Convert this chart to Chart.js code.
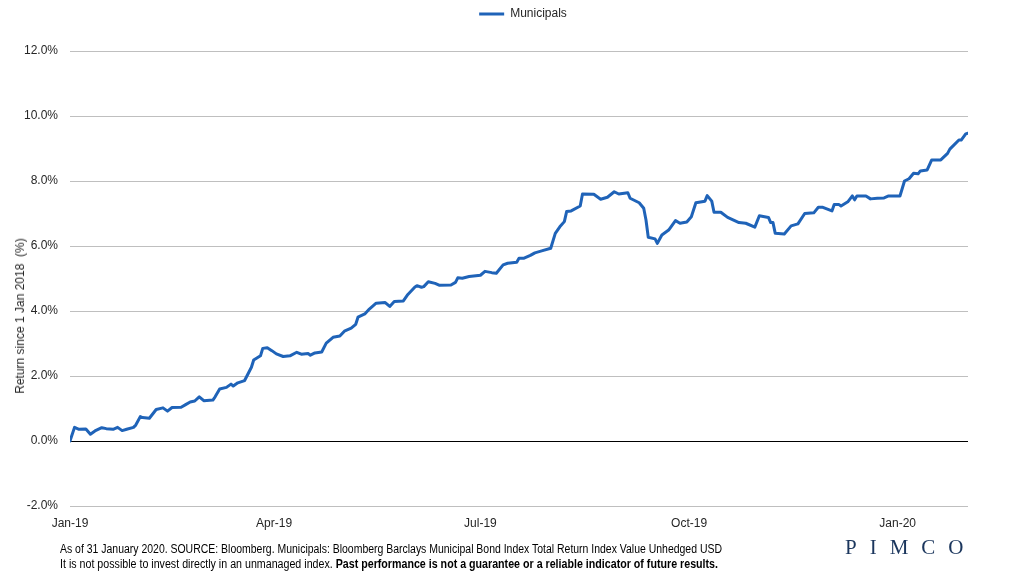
<!DOCTYPE html>
<html>
<head>
<meta charset="utf-8">
<script src="https://cdn.jsdelivr.net/npm/chart.js@4/dist/chart.umd.min.js"></script>
<style>
  body { margin: 0; background: #fff; }
  #wrap { position: relative; width: 1025px; height: 577px; overflow: hidden; }
  #ytitle {
    position: absolute; left: 20px; top: 316px;
    transform: translate(-50%, -50%) rotate(-90deg);
    font: 12px "Liberation Sans", Arial, sans-serif; color: #262626; white-space: pre;
  }
  .foot {
    position: absolute; left: 60px; transform-origin: 0 50%;
    font: 12px "Liberation Sans", Arial, sans-serif; color: #000; white-space: nowrap;
  }
  #logo {
    position: absolute; left: 845px; top: 535px;
    font: 21px "Liberation Serif", "Times New Roman", serif; color: #1b365d; letter-spacing: 13px;
  }
</style>
</head>
<body>
<div id="wrap">
  <canvas id="myChart" width="1025" height="577"></canvas>
  <div id="ytitle">Return since 1 Jan 2018  (%)</div>
  <div class="foot" id="foot1" style="top:542px" data-w="662">As of 31 January 2020. SOURCE: Bloomberg. Municipals: Bloomberg Barclays Municipal Bond Index Total Return Index Value Unhedged USD</div>
  <div class="foot" id="foot2" style="top:557px" data-w="658">It is not possible to invest directly in an unmanaged index. <b>Past performance is not a guarantee or a reliable indicator of future results.</b></div>
  <div id="logo">PIMCO</div>
</div>
<script>
// days since 1 Jan 2019 and the index return (%)
const days = [0,2,4,7,9,11,14,16,19,21,23,25,28,29,31,32,35,38,41,43,45,49,51,53,55,57,59,63,64,66,69,71,72,74,77,80,81,84,85,87,89,91,94,97,100,102,105,106,108,111,113,116,119,121,124,126,127,130,132,135,139,141,143,147,149,152,153,155,156,158,161,163,168,170,171,173,176,181,183,186,188,191,193,197,198,200,203,205,208,212,214,216,218,219,221,225,226,231,234,237,240,242,246,247,251,253,254,255,258,259,261,264,267,269,272,274,276,280,281,283,284,287,290,295,298,302,304,308,309,310,311,315,318,321,324,328,330,332,336,337,339,340,343,345,346,347,351,353,356,359,361,366,368,370,372,374,375,378,380,384,387,388,392,393,395,396];
const municipals = [0.00,0.42,0.36,0.37,0.21,0.31,0.41,0.38,0.36,0.42,0.32,0.36,0.42,0.49,0.75,0.72,0.70,0.97,1.02,0.92,1.03,1.04,1.12,1.20,1.23,1.36,1.24,1.26,1.36,1.60,1.65,1.75,1.69,1.79,1.86,2.27,2.49,2.62,2.85,2.87,2.78,2.68,2.60,2.62,2.73,2.67,2.69,2.64,2.71,2.74,3.01,3.19,3.23,3.38,3.47,3.59,3.81,3.91,4.06,4.24,4.26,4.14,4.29,4.31,4.51,4.73,4.78,4.73,4.75,4.90,4.85,4.79,4.80,4.88,5.02,5.01,5.06,5.10,5.22,5.18,5.16,5.42,5.47,5.50,5.62,5.62,5.71,5.79,5.85,5.93,6.39,6.59,6.75,7.06,7.08,7.23,7.60,7.59,7.44,7.50,7.67,7.60,7.64,7.47,7.33,7.16,6.80,6.27,6.22,6.08,6.34,6.49,6.78,6.70,6.74,6.90,7.33,7.38,7.55,7.38,7.04,7.04,6.88,6.72,6.70,6.58,6.93,6.88,6.72,6.72,6.39,6.37,6.62,6.68,7.00,7.02,7.19,7.19,7.08,7.28,7.28,7.23,7.36,7.54,7.42,7.54,7.54,7.45,7.47,7.48,7.54,7.54,8.00,8.07,8.24,8.22,8.31,8.34,8.65,8.65,8.85,8.98,9.26,9.26,9.45,9.47];

// x axis tick positions (days) and labels
const tickDays = [0, 90, 181, 273, 365];
const tickLabels = ["Jan-19", "Apr-19", "Jul-19", "Oct-19", "Jan-20"];

const lineColor = '#1f63b8';

// the footnote font in the original is narrower, squeeze lines to its width
document.querySelectorAll('.foot').forEach(el => {
  const w = el.getBoundingClientRect().width;
  el.style.transform = 'scaleX(' + (el.dataset.w / w) + ')';
});

// move the legend to where the original has it
const legendShift = {
  id: 'legendShift',
  afterLayout(chart) {
    const lg = chart.legend;
    lg.left += 39; lg.right += 39;
    lg.top -= 21; lg.bottom -= 21;
  }
};

const data = {
  datasets: [{
    label: 'Municipals',
    data: days.map((d, i) => ({x: d, y: municipals[i]})),
    borderColor: lineColor,
    backgroundColor: lineColor,
    borderWidth: 3,
    pointRadius: 0,
    tension: 0,
    borderJoinStyle: 'round',
    borderCapStyle: 'round'
  }]
};

const config = {
  type: 'line',
  data: data,
  options: {
    responsive: false,
    animation: false,
    layout: { padding: { left: 0, right: 57, top: 21, bottom: 41 } },
    plugins: {
      tooltip: { enabled: false },
      legend: {
        position: 'top',
        labels: {
          boxWidth: 25,
          boxHeight: 3,
          padding: 8,
          color: '#262626',
          font: { family: '"Liberation Sans", Arial, sans-serif', size: 12 },
          generateLabels(chart) {
            return Chart.defaults.plugins.legend.labels.generateLabels(chart).map(l => {
              l.lineWidth = 0;
              l.fillStyle = lineColor;
              return l;
            });
          }
        }
      }
    },
    scales: {
      x: {
        type: 'linear',
        min: 0,
        max: 396,
        afterBuildTicks(s) { s.ticks = tickDays.map(v => ({value: v})); },
        afterFit(s) { s.height = 30; },
        grid: { display: false, drawTicks: false },
        border: { display: false },
        ticks: {
          autoSkip: false,
          maxRotation: 0,
          padding: 10,
          color: '#262626',
          font: { family: '"Liberation Sans", Arial, sans-serif', size: 12 },
          callback: v => tickLabels[tickDays.indexOf(v)]
        }
      },
      y: {
        min: -2,
        max: 12,
        afterFit(s) { s.width = 70; },
        border: { display: false },
        grid: {
          drawTicks: false,
          color: c => c.tick && c.tick.value === 0 ? '#000000' : '#bfbfbf',
          lineWidth: 1
        },
        ticks: {
          stepSize: 2,
          padding: 12,
          color: '#262626',
          font: { family: '"Liberation Sans", Arial, sans-serif', size: 12 },
          callback: v => v.toFixed(1) + '%'
        }
      }
    }
  },
  plugins: [legendShift]
};

const ctx = document.getElementById("myChart").getContext("2d");
const myChart = new Chart(ctx, config);
</script>
</body>
</html>
